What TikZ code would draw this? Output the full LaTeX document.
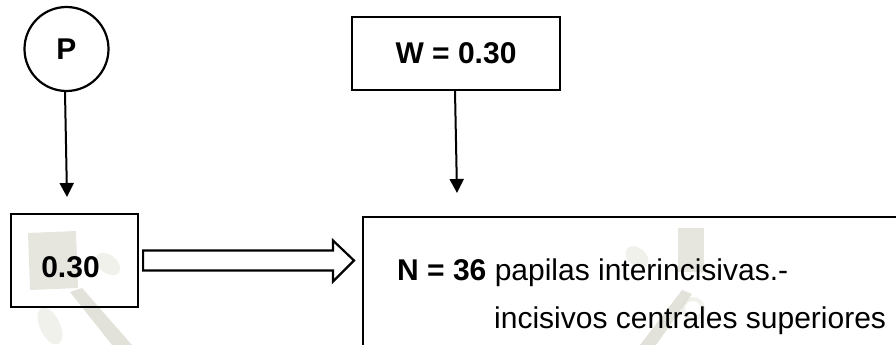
\documentclass[tikz,border=0pt]{standalone}
\usepackage{fontspec}
\setmainfont{Liberation Sans}
\usetikzlibrary{arrows.meta}
\definecolor{wmark}{RGB}{214,214,202}
\tikzset{
  every node/.style={font=\fontsize{30}{36}\selectfont},
  frame/.style={draw=black, line width=2.2pt, fill=none, inner sep=0pt},
  flow/.style={line width=2pt, -{Triangle[width=14pt,length=14pt]}},
  hollow/.style={draw=black, line width=2.2pt, fill=white, line join=miter},
  faint/.style={fill=wmark, draw=none},
}
\begin{document}
\begin{tikzpicture}[x=1pt, y=-1pt]
  \useasboundingbox (0,0) rectangle (896,345);
  \clip (0,0) rectangle (896,345);

  % pale background emblem
  \begin{scope}[opacity=0.35]
    \fill[faint, opacity=0.6] (28,233) -- (76,231) -- (78,288) -- (30,290) -- cycle;
    \fill[faint] (108,264) ellipse [x radius=14, y radius=9, rotate=-40];
    \fill[faint, opacity=0.7] (70,292) -- (82,288) -- (132,345) -- (112,345) -- cycle;
    \fill[faint] (50,326) ellipse [x radius=10, y radius=20, rotate=25];
    \fill[faint, opacity=0.6] (678,228) -- (704,228) -- (704,272) -- (678,272) -- cycle;
    \fill[faint] (637,257) ellipse [x radius=13, y radius=9, rotate=-40];
    \draw[wmark, line width=4pt] (693,309) circle [radius=10];
    \fill[faint, opacity=0.7] (640,345) -- (682,290) -- (692,294) -- (656,345) -- cycle;
  \end{scope}

  % source nodes
  \node[frame, circle, minimum size=84pt] (P) at (66.5,49) {\textbf{P}};
  \node[frame, minimum width=208pt, minimum height=73pt] (W) at (456,53.5) {\textbf{W = 0.30}};

  % value box and its label
  \node[frame, minimum width=127pt, minimum height=93pt] (val) at (74.5,260.5) {};
  \node[inner sep=0pt] (valtxt) at (70.5,267) {\textbf{0.30}};

  % result box, running off the page
  \node[frame, anchor=north west, minimum width=560pt, minimum height=160pt] (res) at (362,216) {};
  \node[anchor=base west, inner sep=0pt] (line1) at (397,280) {\textbf{N = 36} papilas interincisivas.-};
  \node[anchor=base west, inner sep=0pt] (line2) at (494,328) {incisivos centrales superiores};

  % downward connectors
  \coordinate (ptip) at (67,197);
  \coordinate (wtip) at (457,193);
  \draw[flow] ([xshift=-1.5pt]P.south) -- (ptip);
  \draw[flow] ([xshift=-1pt]W.south) -- (wtip);

  % hollow block arrow from the value box to the result box
  \coordinate (bs) at ([xshift=4pt]val.east);
  \coordinate (bt) at ([xshift=-8pt]res.west |- bs);
  \draw[hollow] ([yshift=-10pt]bs) -- ([xshift=-21pt,yshift=-10pt]bt)
    -- ([xshift=-21pt,yshift=-21pt]bt) -- (bt)
    -- ([xshift=-21pt,yshift=20pt]bt) -- ([xshift=-21pt,yshift=10pt]bt)
    -- ([yshift=10pt]bs) -- cycle;
\end{tikzpicture}
\end{document}
